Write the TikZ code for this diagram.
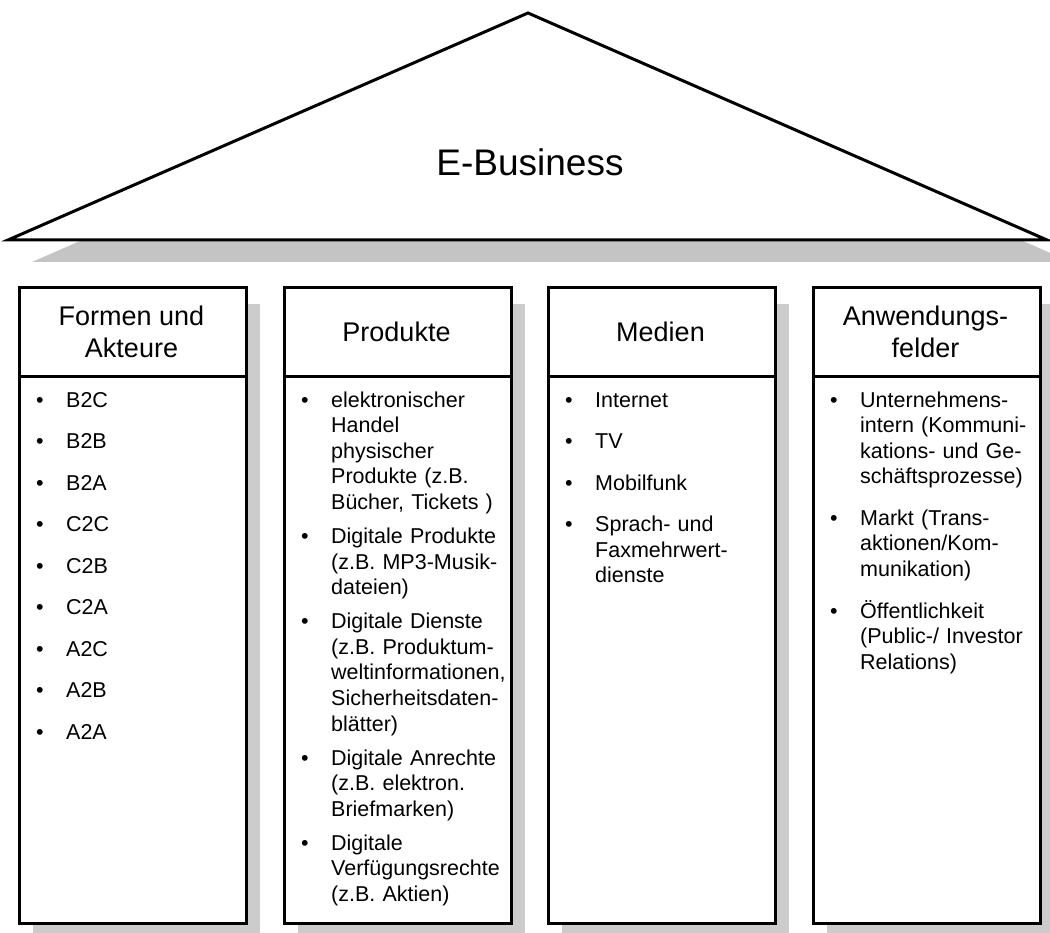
\documentclass[tikz,border=0pt]{standalone}
\usepackage{fontspec}
\setmainfont{Liberation Sans}
\usetikzlibrary{calc}
\definecolor{roofshadow}{HTML}{C4C4C4}
\definecolor{colshadow}{HTML}{CCCCCC}
\tikzset{
  outline/.style={draw=black, line width=3pt, fill=white},
  colbox/.style={outline, rectangle, inner sep=0pt, minimum width=227pt, minimum height=636pt, anchor=north west},
  headtext/.style={font=\fontsize{27}{32}\selectfont, align=center, inner sep=0pt},
  itemtext/.style={font=\fontsize{21.5}{25.6}\selectfont\frenchspacing, text width=200pt, align=left, inner sep=0pt, anchor=base west},
  bulletmark/.style={font=\fontsize{21.5}{25.6}\selectfont, inner sep=0pt, anchor=base},
  divider/.style={draw=black, line width=3pt},
}
\newcommand\entry[4]{%
  \node[bulletmark] (#1-b) at ({#2+22},#3) {•};
  \node[itemtext] (#1) at ({#2+48},#3) {#4};}
\begin{document}
\begin{tikzpicture}[x=1pt,y=-1pt]
\useasboundingbox (0,0) rectangle (1050,933);
\clip (0,0) rectangle (1050,933);
% roof
\fill[roofshadow] (32,262) -- (552,35) -- (1071,262) -- cycle;
\coordinate (roofL) at (8,240);
\coordinate (apex) at (528,13);
\coordinate (roofR) at (1047,240);
\draw[outline, line join=miter] (roofL) -- (apex) -- (roofR) -- cycle;
\node[font=\fontsize{37}{44}\selectfont, anchor=base, inner sep=0pt] (title) at (530,176) {E-Business};
% column shadows
\fill[colshadow] (33,304) rectangle (260,940);
\fill[colshadow] (298,304) rectangle (525,940);
\fill[colshadow] (562,304) rectangle (789,940);
\fill[colshadow] (827,304) rectangle (1054,940);
% column boxes
\node[colbox] (c1) at (18,286) {};
\node[colbox] (c2) at (283,286) {};
\node[colbox] (c3) at (547,286) {};
\node[colbox] (c4) at (812,286) {};
\foreach \c in {c1,c2,c3,c4}{
  \draw[divider] ($(\c.north west)+(0,91)$) -- ($(\c.north east)+(0,91)$);
}
% headers
\node[headtext] (h1) at (131.5,331.5) {Formen und\\Akteure};
\node[headtext] (h2) at (396.5,331.5) {Produkte};
\node[headtext] (h3) at (660.5,331.5) {Medien};
\node[headtext] (h4) at (925.5,331.5) {Anwendungs-\\felder};
% column 1
\entry{a1}{18}{407}{B2C}
\entry{a2}{18}{448.5}{B2B}
\entry{a3}{18}{490}{B2A}
\entry{a4}{18}{531.5}{C2C}
\entry{a5}{18}{573}{C2B}
\entry{a6}{18}{614.5}{C2A}
\entry{a7}{18}{656}{A2C}
\entry{a8}{18}{697.5}{A2B}
\entry{a9}{18}{739}{A2A}
% column 2
\entry{p1}{283}{407}{elektronischer\\Handel\\physischer\\Produkte (z.B.\\Bücher, Tickets )}
\entry{p2}{283}{543.4}{Digitale Produkte\\(z.B. MP3-Musik-\\dateien)}
\entry{p3}{283}{628.6}{Digitale Dienste\\(z.B. Produktum-\\weltinformationen,\\Sicherheitsdaten-\\blätter)}
\entry{p4}{283}{765}{Digitale Anrechte\\(z.B. elektron.\\Briefmarken)}
\entry{p5}{283}{850.2}{Digitale\\Verfügungsrechte\\(z.B. Aktien)}
% column 3
\entry{m1}{547}{407}{Internet}
\entry{m2}{547}{448.5}{TV}
\entry{m3}{547}{490}{Mobilfunk}
\entry{m4}{547}{531.5}{Sprach- und\\Faxmehrwert-\\dienste}
% column 4
\entry{f1}{812}{407}{Unternehmens-\\intern (Kommuni-\\kations- und Ge-\\schäftsprozesse)}
\entry{f2}{812}{525.3}{Markt (Trans-\\aktionen/Kom-\\munikation)}
\entry{f3}{812}{618}{Öffentlichkeit\\(Public-/ Investor\\Relations)}
\end{tikzpicture}
\end{document}
